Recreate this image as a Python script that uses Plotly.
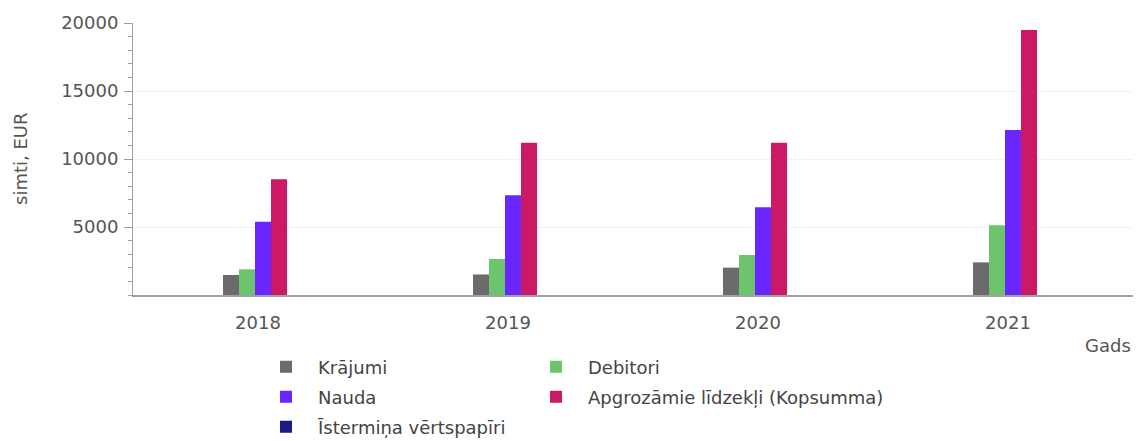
import plotly.graph_objects as go

years = ["2018", "2019", "2020", "2021"]
krajumi = [1470, 1510, 2010, 2400]
debitori = [1890, 2650, 2940, 5120]
nauda = [5390, 7330, 6450, 12130]
apgrozamie = [8510, 11200, 11200, 19490]
istermina = [0, 0, 0, 0]

series = [
    ("Krājumi", krajumi, "#6b6b6b", "legend"),
    ("Debitori", debitori, "#6cc46c", "legend2"),
    ("Nauda", nauda, "#6a26ff", "legend3"),
    ("Apgrozāmie līdzekļi (Kopsumma)", apgrozamie, "#cc1966", "legend4"),
    ("Īstermiņa vērtspapīri", istermina, "#1a1a80", "legend5"),
]

FONT = "DejaVu Sans"
TXT = "#555555"
FS = 18
BAR_W = 0.064
BAR_START = -0.14

fig = go.Figure()
for i, (name, vals, color, lg) in enumerate(series):
    fig.add_trace(go.Bar(
        x=years, y=vals, name=name, legend=lg,
        width=BAR_W, offset=BAR_START + i * BAR_W,
        marker=dict(color=color, line=dict(width=0)),
    ))

W, H = 1136, 441
L, R, T, B = 133, 3, 23, 146
pw, ph = W - L - R, H - T - B

def px_x(x):
    return (x - L) / pw

def px_y(y):
    return (H - B - y) / ph

col1, col2 = 254, 524
rows = [367, 397, 427]
pos = {
    "legend": (col1, rows[0]),
    "legend2": (col2, rows[0]),
    "legend3": (col1, rows[1]),
    "legend4": (col2, rows[1]),
    "legend5": (col1, rows[2]),
}
leg_common = dict(font=dict(family=FONT, size=FS, color="#444444"),
                  bgcolor="rgba(0,0,0,0)", borderwidth=0,
                  xref="container", yref="container",
                  xanchor="left", yanchor="middle", itemwidth=54)
legends = {}
for k, (lx, ly) in pos.items():
    legends[k] = dict(x=lx / W, y=1 - ly / H, **leg_common)

fig.update_layout(
    width=W, height=H,
    margin=dict(l=L, r=R, t=T, b=B, autoexpand=False),
    paper_bgcolor="white", plot_bgcolor="white",
    barmode="group",
    font=dict(family=FONT, size=FS, color=TXT),
    showlegend=True,
    **legends,
    xaxis=dict(
        range=[-0.5, 3.5], showgrid=False, zeroline=False,
        showline=True, linecolor="#a0a0a0", linewidth=2,
        ticks="", ticklabelstandoff=10,
        tickfont=dict(family=FONT, size=FS, color=TXT),
    ),
    yaxis=dict(
        range=[0, 20000], showgrid=True, gridcolor="#f2f2f2", gridwidth=1,
        zeroline=False, showline=True, linecolor="#a0a0a0", linewidth=1,
        tickmode="array", tickvals=[5000, 10000, 15000, 20000],
        ticktext=["5000", "10000", "15000", "20000"],
        ticks="outside", ticklen=8, tickcolor="#a0a0a0", tickwidth=1,
        ticklabelstandoff=2,
        minor=dict(dtick=1000, tick0=0, ticks="outside", ticklen=4,
                   tickcolor="#a0a0a0", showgrid=False),
        tickfont=dict(family=FONT, size=FS, color=TXT),
    ),
    annotations=[
        dict(text="simti, EUR", xref="paper", yref="paper",
             x=px_x(20), y=0.5, xanchor="center", yanchor="middle",
             textangle=-90, showarrow=False,
             font=dict(family=FONT, size=FS, color=TXT)),
        dict(text="Gads", xref="paper", yref="paper",
             x=px_x(1133), y=px_y(345), xanchor="right", yanchor="middle",
             showarrow=False, font=dict(family=FONT, size=FS, color=TXT)),
    ],
)

fig.write_html(
    "out.html",
    config={"displayModeBar": False},
    post_script="document.body.style.margin='0';document.body.style.overflow='hidden';",
)
